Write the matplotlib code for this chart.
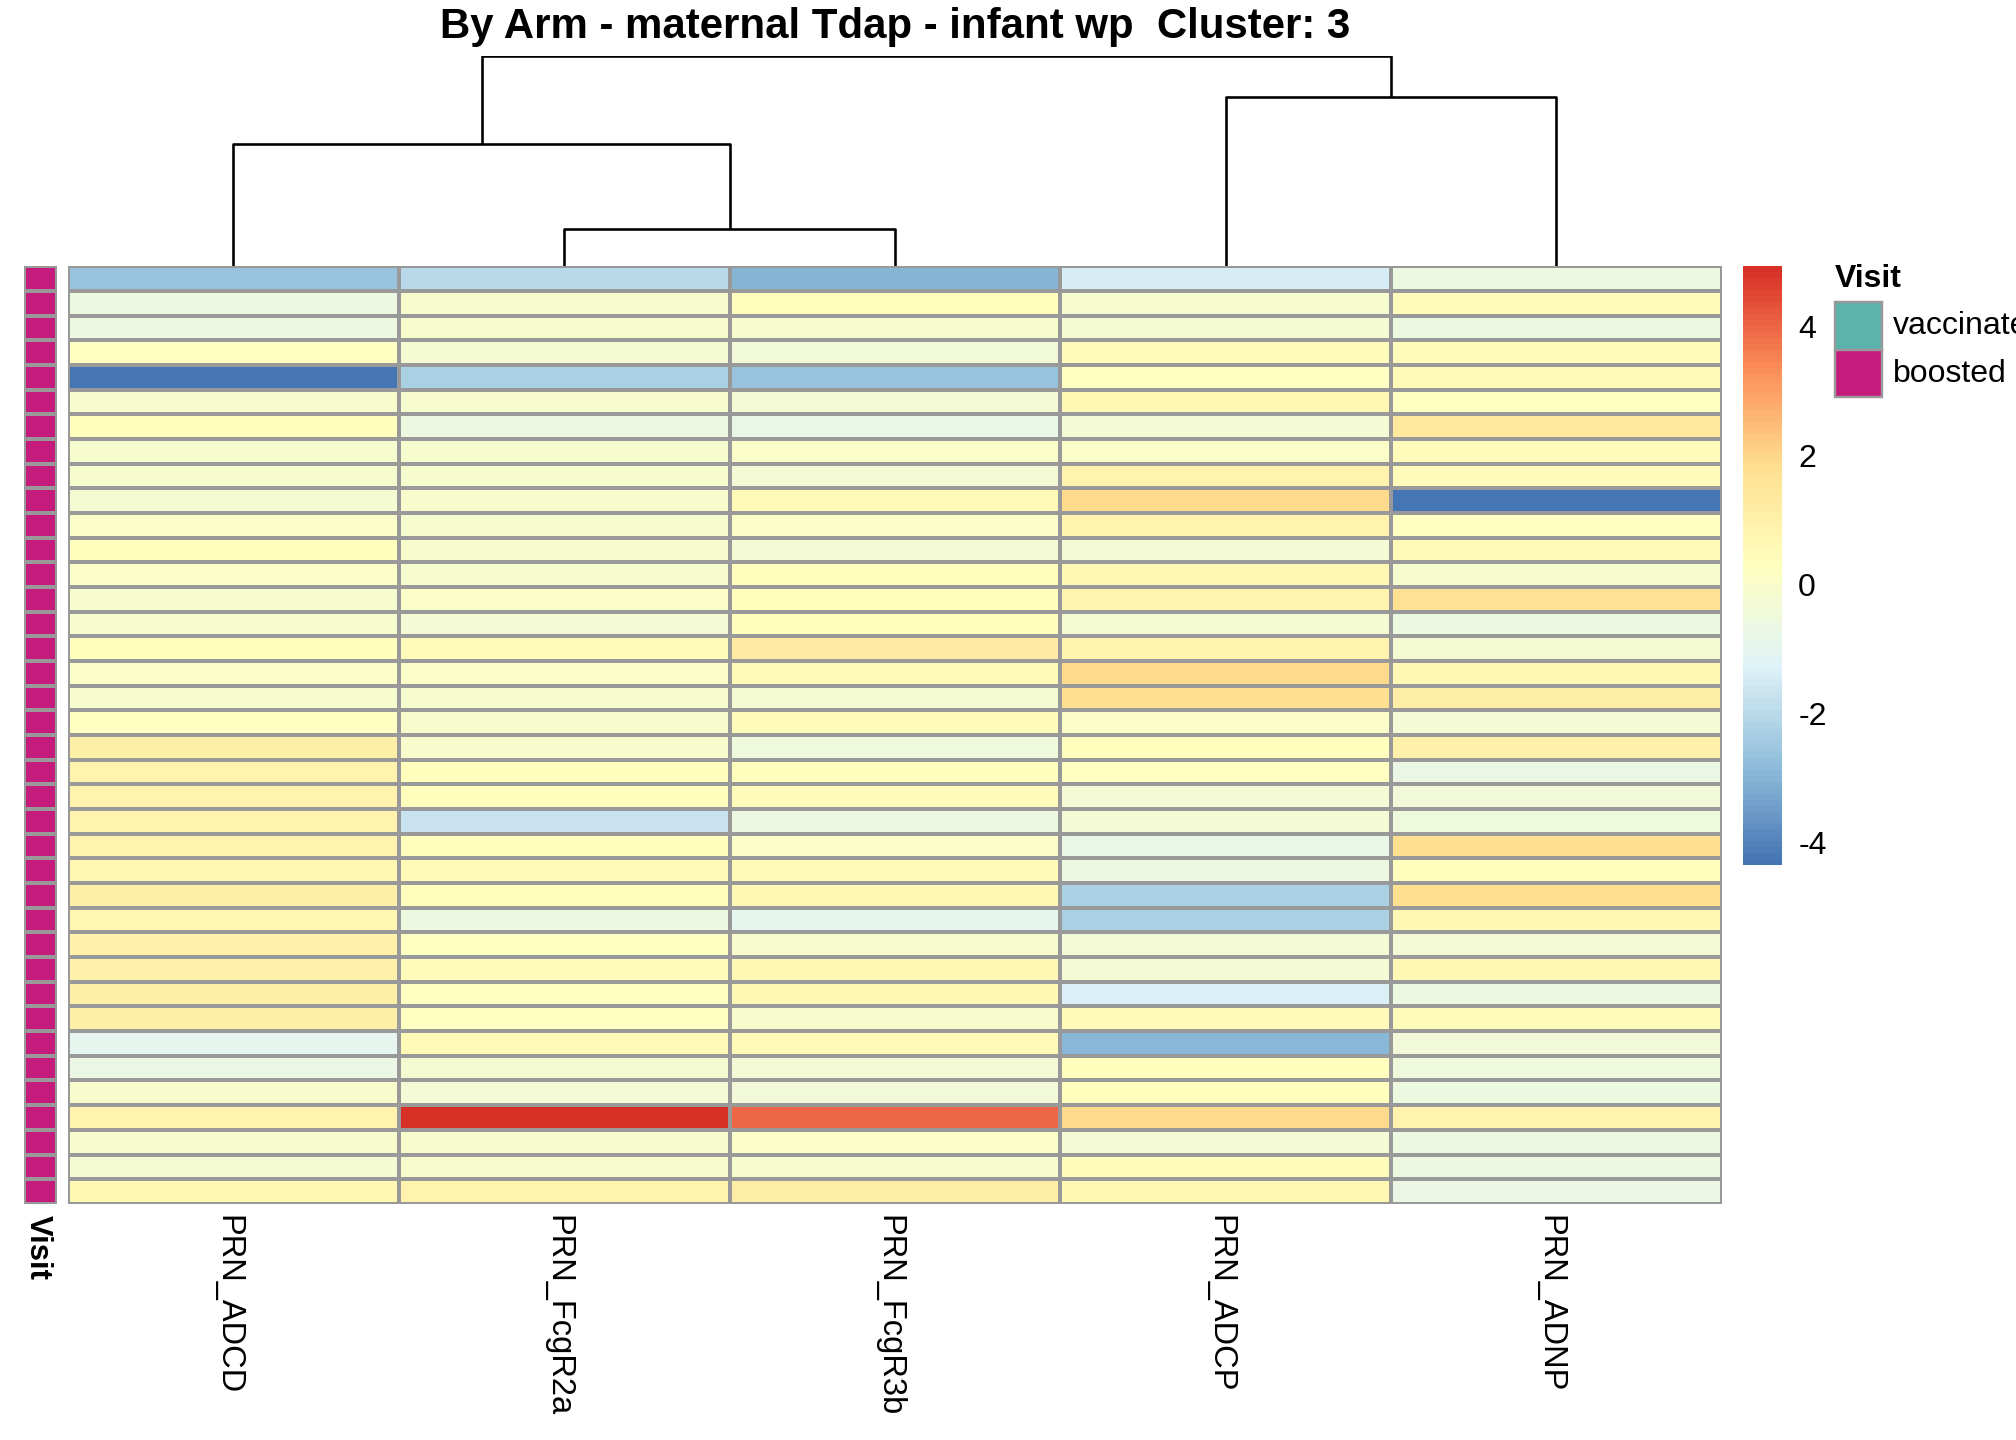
import numpy as np
import matplotlib
matplotlib.use("Agg")
import matplotlib.pyplot as plt
from matplotlib.colors import LinearSegmentedColormap, ListedColormap, Normalize
from matplotlib.patches import Rectangle

plt.rcParams['font.family'] = ['Liberation Sans', 'DejaVu Sans']
plt.rcParams['axes.unicode_minus'] = False

title = "By Arm - maternal Tdap - infant wp  Cluster: 3"
features = ["PRN_ADCD", "PRN_FcgR2a", "PRN_FcgR3b", "PRN_ADCP", "PRN_ADNP"]

# scaled values, one list per column, rows top to bottom
prn_adcd = [-2.6, -0.6, -0.6, 0.2, -4.36, 0.0, 0.3, -0.1, -0.1, -0.2, 0.1, 0.3, 0.1,
            -0.1, -0.1, 0.3, 0.1, -0.1, 0.2, 1.1, 0.9, 0.9, 0.9, 0.9, 0.7, 1.1,
            0.7, 1.0, 1.0, 1.1, 1.1, -1.0, -0.7, 0.0, 0.9, 0.0, -0.2, 0.6]
prn_fcgr2a = [-2.0, 0.0, 0.0, -0.2, -2.3, -0.1, -0.6, -0.1, -0.1, 0.0, -0.1, 0.0, -0.1,
              0.1, -0.3, 0.4, 0.1, -0.1, 0.0, 0.0, 0.3, 0.3, -1.7, 0.3, 0.5, 0.3,
              -0.6, 0.2, 0.4, 0.2, 0.2, 0.5, -0.2, -0.3, 4.94, 0.0, 0.0, 0.9]
prn_fcgr3b = [-3.0, 0.3, 0.0, -0.4, -2.6, -0.3, -0.8, 0.1, -0.3, 0.5, 0.1, -0.3, 0.3,
              0.3, 0.3, 1.3, 0.5, -0.2, 0.4, -0.5, 0.3, 0.4, -0.6, 0.1, 0.5, 0.6,
              -1.0, 0.0, 0.6, 0.6, 0.0, 0.5, -0.3, -0.4, 4.0, 0.1, -0.1, 1.2]
prn_adcp = [-1.4, -0.1, -0.2, 0.4, 0.2, 0.6, -0.3, 0.1, 0.9, 1.9, 0.9, -0.3, 0.6,
            0.8, -0.2, 0.9, 1.9, 1.8, 0.1, 0.3, 0.2, -0.3, -0.3, -0.8, -0.6, -2.3,
            -2.3, -0.3, -0.3, -1.3, 0.5, -2.9, 0.3, 0.3, 1.9, -0.3, 0.4, 0.6]
prn_adnp = [-0.6, 0.4, -0.6, 0.4, 0.5, 0.2, 1.4, 0.4, 0.4, -4.3, 0.2, 0.5, -0.1,
            1.7, -0.6, -0.2, 0.6, 1.2, -0.3, 1.0, -0.7, -0.4, -0.5, 1.8, 0.3, 1.8,
            0.6, -0.3, 0.6, -0.6, 0.4, -0.4, -0.5, -0.6, 0.9, -0.6, -0.6, -0.7]

visit = ["boosted"] * 38
visit_levels = ["vaccinated", "boosted"]
visit_colors = {"vaccinated": "#5AB4AC", "boosted": "#C51B7D"}

# column dendrogram: (left leaf/node x, right leaf/node x, merge height)
merges = [(1.5, 2.5, 0.18), (0.5, 2.0, 0.584), (3.5, 4.5, 0.807), (1.25, 4.0, 1.0)]
child_height = {1.5: 0.0, 2.5: 0.0, 0.5: 0.0, 3.5: 0.0, 4.5: 0.0,
                2.0: 0.18, 1.25: 0.584, 4.0: 0.807}

data = np.array([prn_adcd, prn_fcgr2a, prn_fcgr3b, prn_adcp, prn_adnp]).T
n_rows, n_cols = data.shape

palette = ["#4575B4", "#91BFDB", "#E0F3F8", "#FFFFBF", "#FEE090", "#FC8D59", "#D73027"]
cmap = ListedColormap(LinearSegmentedColormap.from_list("rdylbu", palette)(np.linspace(0, 1, 100)))
norm = Normalize(vmin=data.min(), vmax=data.max())
grid = "#999999"

fig = plt.figure(figsize=(14, 10), dpi=144)

# main heatmap
ax = fig.add_axes([0.0338, 0.164, 0.8202, 0.651])
ax.pcolormesh(np.arange(n_cols + 1), np.arange(n_rows + 1), data, cmap=cmap, norm=norm,
              edgecolors=grid, linewidth=1.2)
ax.set_xlim(0, n_cols)
ax.set_ylim(n_rows, 0)
ax.axis("off")
for i, name in enumerate(features):
    fig.text(0.0338 + 0.8202 * (i + 0.5) / n_cols - 0.003, 0.156, name, rotation=270,
             ha="center", va="top", fontsize=16.3)

# annotation column
ax_ann = fig.add_axes([0.0121, 0.164, 0.016, 0.651])
ann = np.array([[visit_levels.index(v)] for v in visit])
ax_ann.pcolormesh(np.arange(2), np.arange(n_rows + 1), ann,
                  cmap=ListedColormap([visit_colors[k] for k in visit_levels]),
                  vmin=-0.5, vmax=1.5, edgecolors=grid, linewidth=1.2)
ax_ann.set_xlim(0, 1)
ax_ann.set_ylim(n_rows, 0)
ax_ann.axis("off")
fig.text(0.0185, 0.156, "Visit", rotation=270, ha="center", va="top",
         fontsize=15.5, fontweight="bold")

# dendrogram
ax_d = fig.add_axes([0.0338, 0.815, 0.8202, 0.146])
for xl, xr, h in merges:
    ax_d.plot([xl, xl, xr, xr], [child_height[xl], h, h, child_height[xr]],
              color="black", lw=1.3, solid_capstyle="butt")
ax_d.set_xlim(0, n_cols)
ax_d.set_ylim(0, 1.0)
ax_d.axis("off")

fig.text(0.444, 0.981, title, ha="center", va="center", fontsize=21, fontweight="bold")

# colour key
cax = fig.add_axes([0.8648, 0.399, 0.0192, 0.416])
cb = fig.colorbar(plt.cm.ScalarMappable(norm=norm, cmap=cmap), cax=cax, ticks=[-4, -2, 0, 2, 4])
cb.outline.set_visible(False)
cax.tick_params(length=0, labelsize=16, pad=8)

# Visit legend
fig.text(0.910, 0.806, "Visit", ha="left", va="center", fontsize=16, fontweight="bold")
box_h = 0.033
for k, level in enumerate(visit_levels):
    y0 = 0.790 - (k + 1) * box_h
    fig.patches.append(Rectangle((0.910, y0), 0.0237, box_h, transform=fig.transFigure,
                                 facecolor=visit_colors[level], edgecolor=grid, lw=1.2))
    fig.text(0.9388, y0 + box_h / 2, level, ha="left", va="center", fontsize=16)

fig.savefig("out.png", dpi=144)
